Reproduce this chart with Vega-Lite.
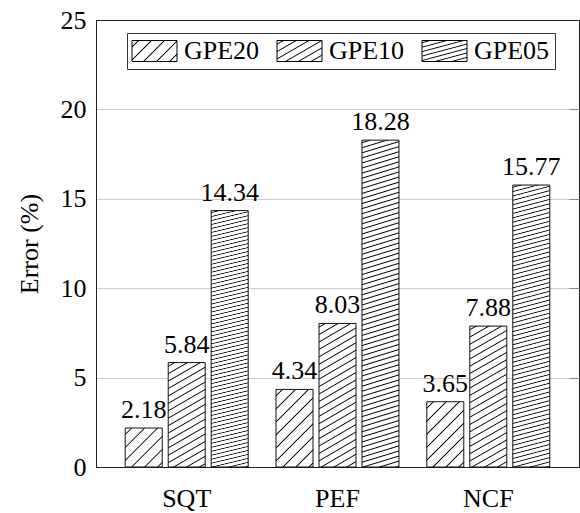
{
  "$schema": "https://vega.github.io/schema/vega-lite/v6.json",
  "width": 483,
  "height": 447,
  "autosize": {"type": "none"},
  "padding": {"left": 96, "top": 20, "right": 1, "bottom": 46},
  "background": "white",
  "config": {"font": "Liberation Serif", "view": {"stroke": "#222", "strokeWidth": 1}},
  "data": {"values": [
    {"cat": "SQT", "series": "GPE20", "value": 2.18},
    {"cat": "SQT", "series": "GPE10", "value": 5.84},
    {"cat": "SQT", "series": "GPE05", "value": 14.34},
    {"cat": "PEF", "series": "GPE20", "value": 4.34},
    {"cat": "PEF", "series": "GPE10", "value": 8.03},
    {"cat": "PEF", "series": "GPE05", "value": 18.28},
    {"cat": "NCF", "series": "GPE20", "value": 3.65},
    {"cat": "NCF", "series": "GPE10", "value": 7.88},
    {"cat": "NCF", "series": "GPE05", "value": 15.77}
  ]},
  "encoding": {
    "x": {
      "field": "cat", "type": "nominal", "sort": ["SQT", "PEF", "NCF"], "title": null,
      "scale": {"paddingInner": 0.1844, "paddingOuter": 0.1937},
      "axis": {"labelAngle": 0, "ticks": false, "tickSize": 0, "labelPadding": 18, "labelFont": "Liberation Serif", "labelFontSize": 26, "labelColor": "#000", "domainColor": "#222", "grid": false}
    },
    "xOffset": {
      "field": "series", "type": "nominal", "sort": ["GPE20", "GPE10", "GPE05"],
      "scale": {"paddingInner": 0.1395, "paddingOuter": 0}
    }
  },
  "layer": [
    {
      "mark": {"type": "bar", "stroke": "#111", "strokeWidth": 1},
      "encoding": {
        "y": {
          "field": "value", "type": "quantitative",
          "scale": {"domain": [0, 25], "nice": false},
          "axis": {
            "title": "Error (%)", "orient": "left", "values": [0, 5, 10, 15, 20, 25],
            "ticks": false, "tickSize": 0, "labelPadding": 10, "labelFont": "Liberation Serif", "labelFontSize": 26, "labelColor": "#000",
            "domainColor": "#222", "grid": true,
            "gridColor": {"condition": {"test": "datum.value === 0 || datum.value === 25", "value": "transparent"}, "value": "#cccccc"},
            "titleFont": "Liberation Serif", "titleFontSize": 26, "titleFontWeight": "normal", "titleColor": "#000",
            "titleX": -54, "titleY": 223.5, "titleAngle": 270, "titleAlign": "center", "titleBaseline": "bottom"
          }
        },
        "fill": {
          "field": "series", "type": "nominal",
          "scale": {
            "domain": ["GPE20", "GPE10", "GPE05"],
            "range": [
              {"expr": "{gradient: 'linear', x1: 0, y1: 0, x2: 1.2044, y2: 0.5621, stops: [{offset: 0.0793, color: '#fff'}, {offset: 0.0986, color: '#000'}, {offset: 0.1179, color: '#fff'}, {offset: 0.2764, color: '#fff'}, {offset: 0.2957, color: '#000'}, {offset: 0.315, color: '#fff'}, {offset: 0.4735, color: '#fff'}, {offset: 0.4928, color: '#000'}, {offset: 0.5121, color: '#fff'}, {offset: 0.6706, color: '#fff'}, {offset: 0.6899, color: '#000'}, {offset: 0.7092, color: '#fff'}, {offset: 0.8677, color: '#fff'}, {offset: 0.887, color: '#000'}, {offset: 0.9063, color: '#fff'}]}"},
              {"expr": "{gradient: 'linear', x1: 0, y1: 0, x2: 1.0938, y2: 0.8841, stops: [{offset: 0.0566, color: '#fff'}, {offset: 0.0787, color: '#000'}, {offset: 0.1008, color: '#fff'}, {offset: 0.2139, color: '#fff'}, {offset: 0.236, color: '#000'}, {offset: 0.2581, color: '#fff'}, {offset: 0.3712, color: '#fff'}, {offset: 0.3933, color: '#000'}, {offset: 0.4154, color: '#fff'}, {offset: 0.5285, color: '#fff'}, {offset: 0.5506, color: '#000'}, {offset: 0.5727, color: '#fff'}, {offset: 0.6858, color: '#fff'}, {offset: 0.7079, color: '#000'}, {offset: 0.73, color: '#fff'}, {offset: 0.8431, color: '#fff'}, {offset: 0.8652, color: '#000'}, {offset: 0.8873, color: '#fff'}]}"},
              {"expr": "{gradient: 'linear', x1: 0, y1: 0, x2: 0.6798, y2: 1.1839, stops: [{offset: 0.0391, color: '#fff'}, {offset: 0.0673, color: '#000'}, {offset: 0.0955, color: '#fff'}, {offset: 0.1738, color: '#fff'}, {offset: 0.202, color: '#000'}, {offset: 0.2302, color: '#fff'}, {offset: 0.3084, color: '#fff'}, {offset: 0.3366, color: '#000'}, {offset: 0.3648, color: '#fff'}, {offset: 0.4431, color: '#fff'}, {offset: 0.4713, color: '#000'}, {offset: 0.4995, color: '#fff'}, {offset: 0.5778, color: '#fff'}, {offset: 0.606, color: '#000'}, {offset: 0.6342, color: '#fff'}, {offset: 0.7124, color: '#fff'}, {offset: 0.7406, color: '#000'}, {offset: 0.7688, color: '#fff'}, {offset: 0.8471, color: '#fff'}, {offset: 0.8753, color: '#000'}, {offset: 0.9035, color: '#fff'}]}"}
            ]
          },
          "legend": {
            "orient": "none", "legendX": 31, "legendY": 13, "direction": "horizontal", "title": null,
            "symbolType": "M-2,-0.9333H2V0.9333H-2Z", "symbolSize": 506.25, "symbolOffset": 9.5,
            "symbolStrokeColor": "#000", "symbolStrokeWidth": 1, "symbolOpacity": 1,
            "labelFont": "Liberation Serif", "labelFontSize": 26, "labelColor": "#000", "labelOffset": 16.5, "columnPadding": 15,
            "padding": 5, "strokeColor": "#333", "fillColor": "#fff"
          },
          "condition": [
            {"test": "datum.series === 'GPE05'", "value": {"gradient": "linear", "x1": 0, "y1": 0, "x2": 0.0357, "y2": 1.0333, "stops": [
              {"offset": 0.0045, "color": "#fff"}, {"offset": 0.0075, "color": "#000"}, {"offset": 0.0105, "color": "#fff"},
              {"offset": 0.0195, "color": "#fff"}, {"offset": 0.0225, "color": "#000"}, {"offset": 0.0255, "color": "#fff"},
              {"offset": 0.0345, "color": "#fff"}, {"offset": 0.0375, "color": "#000"}, {"offset": 0.0405, "color": "#fff"},
              {"offset": 0.0495, "color": "#fff"}, {"offset": 0.0525, "color": "#000"}, {"offset": 0.0555, "color": "#fff"},
              {"offset": 0.0645, "color": "#fff"}, {"offset": 0.0675, "color": "#000"}, {"offset": 0.0705, "color": "#fff"},
              {"offset": 0.0795, "color": "#fff"}, {"offset": 0.0825, "color": "#000"}, {"offset": 0.0855, "color": "#fff"},
              {"offset": 0.0945, "color": "#fff"}, {"offset": 0.0975, "color": "#000"}, {"offset": 0.1005, "color": "#fff"},
              {"offset": 0.1095, "color": "#fff"}, {"offset": 0.1125, "color": "#000"}, {"offset": 0.1155, "color": "#fff"},
              {"offset": 0.1245, "color": "#fff"}, {"offset": 0.1275, "color": "#000"}, {"offset": 0.1305, "color": "#fff"},
              {"offset": 0.1395, "color": "#fff"}, {"offset": 0.1425, "color": "#000"}, {"offset": 0.1455, "color": "#fff"},
              {"offset": 0.1545, "color": "#fff"}, {"offset": 0.1575, "color": "#000"}, {"offset": 0.1605, "color": "#fff"},
              {"offset": 0.1695, "color": "#fff"}, {"offset": 0.1725, "color": "#000"}, {"offset": 0.1755, "color": "#fff"},
              {"offset": 0.1845, "color": "#fff"}, {"offset": 0.1875, "color": "#000"}, {"offset": 0.1905, "color": "#fff"},
              {"offset": 0.1995, "color": "#fff"}, {"offset": 0.2025, "color": "#000"}, {"offset": 0.2055, "color": "#fff"},
              {"offset": 0.2145, "color": "#fff"}, {"offset": 0.2175, "color": "#000"}, {"offset": 0.2205, "color": "#fff"},
              {"offset": 0.2295, "color": "#fff"}, {"offset": 0.2325, "color": "#000"}, {"offset": 0.2355, "color": "#fff"},
              {"offset": 0.2445, "color": "#fff"}, {"offset": 0.2475, "color": "#000"}, {"offset": 0.2505, "color": "#fff"},
              {"offset": 0.2595, "color": "#fff"}, {"offset": 0.2625, "color": "#000"}, {"offset": 0.2655, "color": "#fff"},
              {"offset": 0.2745, "color": "#fff"}, {"offset": 0.2775, "color": "#000"}, {"offset": 0.2805, "color": "#fff"},
              {"offset": 0.2895, "color": "#fff"}, {"offset": 0.2925, "color": "#000"}, {"offset": 0.2955, "color": "#fff"},
              {"offset": 0.3045, "color": "#fff"}, {"offset": 0.3075, "color": "#000"}, {"offset": 0.3105, "color": "#fff"},
              {"offset": 0.3195, "color": "#fff"}, {"offset": 0.3225, "color": "#000"}, {"offset": 0.3255, "color": "#fff"},
              {"offset": 0.3345, "color": "#fff"}, {"offset": 0.3375, "color": "#000"}, {"offset": 0.3405, "color": "#fff"},
              {"offset": 0.3495, "color": "#fff"}, {"offset": 0.3525, "color": "#000"}, {"offset": 0.3555, "color": "#fff"},
              {"offset": 0.3645, "color": "#fff"}, {"offset": 0.3675, "color": "#000"}, {"offset": 0.3705, "color": "#fff"},
              {"offset": 0.3795, "color": "#fff"}, {"offset": 0.3825, "color": "#000"}, {"offset": 0.3855, "color": "#fff"},
              {"offset": 0.3945, "color": "#fff"}, {"offset": 0.3975, "color": "#000"}, {"offset": 0.4005, "color": "#fff"},
              {"offset": 0.4095, "color": "#fff"}, {"offset": 0.4125, "color": "#000"}, {"offset": 0.4155, "color": "#fff"},
              {"offset": 0.4245, "color": "#fff"}, {"offset": 0.4275, "color": "#000"}, {"offset": 0.4305, "color": "#fff"},
              {"offset": 0.4395, "color": "#fff"}, {"offset": 0.4425, "color": "#000"}, {"offset": 0.4455, "color": "#fff"},
              {"offset": 0.4545, "color": "#fff"}, {"offset": 0.4575, "color": "#000"}, {"offset": 0.4605, "color": "#fff"},
              {"offset": 0.4695, "color": "#fff"}, {"offset": 0.4725, "color": "#000"}, {"offset": 0.4755, "color": "#fff"},
              {"offset": 0.4845, "color": "#fff"}, {"offset": 0.4875, "color": "#000"}, {"offset": 0.4905, "color": "#fff"},
              {"offset": 0.4995, "color": "#fff"}, {"offset": 0.5025, "color": "#000"}, {"offset": 0.5055, "color": "#fff"},
              {"offset": 0.5145, "color": "#fff"}, {"offset": 0.5175, "color": "#000"}, {"offset": 0.5205, "color": "#fff"},
              {"offset": 0.5295, "color": "#fff"}, {"offset": 0.5325, "color": "#000"}, {"offset": 0.5355, "color": "#fff"},
              {"offset": 0.5445, "color": "#fff"}, {"offset": 0.5475, "color": "#000"}, {"offset": 0.5505, "color": "#fff"},
              {"offset": 0.5595, "color": "#fff"}, {"offset": 0.5625, "color": "#000"}, {"offset": 0.5655, "color": "#fff"},
              {"offset": 0.5745, "color": "#fff"}, {"offset": 0.5775, "color": "#000"}, {"offset": 0.5805, "color": "#fff"},
              {"offset": 0.5895, "color": "#fff"}, {"offset": 0.5925, "color": "#000"}, {"offset": 0.5955, "color": "#fff"},
              {"offset": 0.6045, "color": "#fff"}, {"offset": 0.6075, "color": "#000"}, {"offset": 0.6105, "color": "#fff"},
              {"offset": 0.6195, "color": "#fff"}, {"offset": 0.6225, "color": "#000"}, {"offset": 0.6255, "color": "#fff"},
              {"offset": 0.6345, "color": "#fff"}, {"offset": 0.6375, "color": "#000"}, {"offset": 0.6405, "color": "#fff"},
              {"offset": 0.6495, "color": "#fff"}, {"offset": 0.6525, "color": "#000"}, {"offset": 0.6555, "color": "#fff"},
              {"offset": 0.6645, "color": "#fff"}, {"offset": 0.6675, "color": "#000"}, {"offset": 0.6705, "color": "#fff"},
              {"offset": 0.6795, "color": "#fff"}, {"offset": 0.6825, "color": "#000"}, {"offset": 0.6855, "color": "#fff"},
              {"offset": 0.6945, "color": "#fff"}, {"offset": 0.6975, "color": "#000"}, {"offset": 0.7005, "color": "#fff"},
              {"offset": 0.7095, "color": "#fff"}, {"offset": 0.7125, "color": "#000"}, {"offset": 0.7155, "color": "#fff"},
              {"offset": 0.7245, "color": "#fff"}, {"offset": 0.7275, "color": "#000"}, {"offset": 0.7305, "color": "#fff"},
              {"offset": 0.7395, "color": "#fff"}, {"offset": 0.7425, "color": "#000"}, {"offset": 0.7455, "color": "#fff"},
              {"offset": 0.7545, "color": "#fff"}, {"offset": 0.7575, "color": "#000"}, {"offset": 0.7605, "color": "#fff"},
              {"offset": 0.7695, "color": "#fff"}, {"offset": 0.7725, "color": "#000"}, {"offset": 0.7755, "color": "#fff"},
              {"offset": 0.7845, "color": "#fff"}, {"offset": 0.7875, "color": "#000"}, {"offset": 0.7905, "color": "#fff"},
              {"offset": 0.7995, "color": "#fff"}, {"offset": 0.8025, "color": "#000"}, {"offset": 0.8055, "color": "#fff"},
              {"offset": 0.8145, "color": "#fff"}, {"offset": 0.8175, "color": "#000"}, {"offset": 0.8205, "color": "#fff"},
              {"offset": 0.8295, "color": "#fff"}, {"offset": 0.8325, "color": "#000"}, {"offset": 0.8355, "color": "#fff"},
              {"offset": 0.8445, "color": "#fff"}, {"offset": 0.8475, "color": "#000"}, {"offset": 0.8505, "color": "#fff"},
              {"offset": 0.8595, "color": "#fff"}, {"offset": 0.8625, "color": "#000"}, {"offset": 0.8655, "color": "#fff"},
              {"offset": 0.8745, "color": "#fff"}, {"offset": 0.8775, "color": "#000"}, {"offset": 0.8805, "color": "#fff"},
              {"offset": 0.8895, "color": "#fff"}, {"offset": 0.8925, "color": "#000"}, {"offset": 0.8955, "color": "#fff"},
              {"offset": 0.9045, "color": "#fff"}, {"offset": 0.9075, "color": "#000"}, {"offset": 0.9105, "color": "#fff"},
              {"offset": 0.9195, "color": "#fff"}, {"offset": 0.9225, "color": "#000"}, {"offset": 0.9255, "color": "#fff"},
              {"offset": 0.9345, "color": "#fff"}, {"offset": 0.9375, "color": "#000"}, {"offset": 0.9405, "color": "#fff"},
              {"offset": 0.9495, "color": "#fff"}, {"offset": 0.9525, "color": "#000"}, {"offset": 0.9555, "color": "#fff"},
              {"offset": 0.9645, "color": "#fff"}, {"offset": 0.9675, "color": "#000"}, {"offset": 0.9705, "color": "#fff"},
              {"offset": 0.9795, "color": "#fff"}, {"offset": 0.9825, "color": "#000"}, {"offset": 0.9855, "color": "#fff"},
              {"offset": 0.9945, "color": "#fff"}, {"offset": 0.9975, "color": "#000"}, {"offset": 1, "color": "#fff"}
            ]}},
            {"test": "datum.series === 'GPE10' && datum.cat === 'SQT'", "value": {"gradient": "linear", "x1": 0, "y1": 0, "x2": 0.2365, "y2": 1.1562, "stops": [
              {"offset": 0.0212, "color": "#fff"}, {"offset": 0.0295, "color": "#000"}, {"offset": 0.0378, "color": "#fff"},
              {"offset": 0.0802, "color": "#fff"}, {"offset": 0.0885, "color": "#000"}, {"offset": 0.0968, "color": "#fff"},
              {"offset": 0.1392, "color": "#fff"}, {"offset": 0.1475, "color": "#000"}, {"offset": 0.1558, "color": "#fff"},
              {"offset": 0.1982, "color": "#fff"}, {"offset": 0.2065, "color": "#000"}, {"offset": 0.2148, "color": "#fff"},
              {"offset": 0.2572, "color": "#fff"}, {"offset": 0.2655, "color": "#000"}, {"offset": 0.2738, "color": "#fff"},
              {"offset": 0.3162, "color": "#fff"}, {"offset": 0.3245, "color": "#000"}, {"offset": 0.3328, "color": "#fff"},
              {"offset": 0.3752, "color": "#fff"}, {"offset": 0.3835, "color": "#000"}, {"offset": 0.3918, "color": "#fff"},
              {"offset": 0.4342, "color": "#fff"}, {"offset": 0.4425, "color": "#000"}, {"offset": 0.4508, "color": "#fff"},
              {"offset": 0.4932, "color": "#fff"}, {"offset": 0.5015, "color": "#000"}, {"offset": 0.5098, "color": "#fff"},
              {"offset": 0.5522, "color": "#fff"}, {"offset": 0.5605, "color": "#000"}, {"offset": 0.5688, "color": "#fff"},
              {"offset": 0.6112, "color": "#fff"}, {"offset": 0.6195, "color": "#000"}, {"offset": 0.6278, "color": "#fff"},
              {"offset": 0.6702, "color": "#fff"}, {"offset": 0.6785, "color": "#000"}, {"offset": 0.6868, "color": "#fff"},
              {"offset": 0.7292, "color": "#fff"}, {"offset": 0.7375, "color": "#000"}, {"offset": 0.7458, "color": "#fff"},
              {"offset": 0.7882, "color": "#fff"}, {"offset": 0.7965, "color": "#000"}, {"offset": 0.8048, "color": "#fff"},
              {"offset": 0.8472, "color": "#fff"}, {"offset": 0.8555, "color": "#000"}, {"offset": 0.8638, "color": "#fff"},
              {"offset": 0.9062, "color": "#fff"}, {"offset": 0.9145, "color": "#000"}, {"offset": 0.9228, "color": "#fff"},
              {"offset": 0.9652, "color": "#fff"}, {"offset": 0.9735, "color": "#000"}, {"offset": 0.9818, "color": "#fff"}
            ]}},
            {"test": "datum.series === 'GPE10'", "value": {"gradient": "linear", "x1": 0, "y1": 0, "x2": 0.169, "y2": 1.1248, "stops": [
              {"offset": 0.0161, "color": "#fff"}, {"offset": 0.0225, "color": "#000"}, {"offset": 0.0289, "color": "#fff"},
              {"offset": 0.0611, "color": "#fff"}, {"offset": 0.0675, "color": "#000"}, {"offset": 0.0739, "color": "#fff"},
              {"offset": 0.1061, "color": "#fff"}, {"offset": 0.1125, "color": "#000"}, {"offset": 0.1189, "color": "#fff"},
              {"offset": 0.1511, "color": "#fff"}, {"offset": 0.1575, "color": "#000"}, {"offset": 0.1639, "color": "#fff"},
              {"offset": 0.1961, "color": "#fff"}, {"offset": 0.2025, "color": "#000"}, {"offset": 0.2089, "color": "#fff"},
              {"offset": 0.2411, "color": "#fff"}, {"offset": 0.2475, "color": "#000"}, {"offset": 0.2539, "color": "#fff"},
              {"offset": 0.2861, "color": "#fff"}, {"offset": 0.2925, "color": "#000"}, {"offset": 0.2989, "color": "#fff"},
              {"offset": 0.3311, "color": "#fff"}, {"offset": 0.3375, "color": "#000"}, {"offset": 0.3439, "color": "#fff"},
              {"offset": 0.3761, "color": "#fff"}, {"offset": 0.3825, "color": "#000"}, {"offset": 0.3889, "color": "#fff"},
              {"offset": 0.4211, "color": "#fff"}, {"offset": 0.4275, "color": "#000"}, {"offset": 0.4339, "color": "#fff"},
              {"offset": 0.4661, "color": "#fff"}, {"offset": 0.4725, "color": "#000"}, {"offset": 0.4789, "color": "#fff"},
              {"offset": 0.5111, "color": "#fff"}, {"offset": 0.5175, "color": "#000"}, {"offset": 0.5239, "color": "#fff"},
              {"offset": 0.5561, "color": "#fff"}, {"offset": 0.5625, "color": "#000"}, {"offset": 0.5689, "color": "#fff"},
              {"offset": 0.6011, "color": "#fff"}, {"offset": 0.6075, "color": "#000"}, {"offset": 0.6139, "color": "#fff"},
              {"offset": 0.6461, "color": "#fff"}, {"offset": 0.6525, "color": "#000"}, {"offset": 0.6589, "color": "#fff"},
              {"offset": 0.6911, "color": "#fff"}, {"offset": 0.6975, "color": "#000"}, {"offset": 0.7039, "color": "#fff"},
              {"offset": 0.7361, "color": "#fff"}, {"offset": 0.7425, "color": "#000"}, {"offset": 0.7489, "color": "#fff"},
              {"offset": 0.7811, "color": "#fff"}, {"offset": 0.7875, "color": "#000"}, {"offset": 0.7939, "color": "#fff"},
              {"offset": 0.8261, "color": "#fff"}, {"offset": 0.8325, "color": "#000"}, {"offset": 0.8389, "color": "#fff"},
              {"offset": 0.8711, "color": "#fff"}, {"offset": 0.8775, "color": "#000"}, {"offset": 0.8839, "color": "#fff"},
              {"offset": 0.9161, "color": "#fff"}, {"offset": 0.9225, "color": "#000"}, {"offset": 0.9289, "color": "#fff"},
              {"offset": 0.9611, "color": "#fff"}, {"offset": 0.9675, "color": "#000"}, {"offset": 0.9739, "color": "#fff"}
            ]}},
            {"test": "datum.series === 'GPE20' && datum.cat === 'SQT'", "value": {"gradient": "linear", "x1": 0, "y1": 0, "x2": 0.9733, "y2": 1.0254, "stops": [
              {"offset": 0.0687, "color": "#fff"}, {"offset": 0.0855, "color": "#000"}, {"offset": 0.1023, "color": "#fff"},
              {"offset": 0.2397, "color": "#fff"}, {"offset": 0.2565, "color": "#000"}, {"offset": 0.2733, "color": "#fff"},
              {"offset": 0.4107, "color": "#fff"}, {"offset": 0.4275, "color": "#000"}, {"offset": 0.4443, "color": "#fff"},
              {"offset": 0.5817, "color": "#fff"}, {"offset": 0.5985, "color": "#000"}, {"offset": 0.6153, "color": "#fff"},
              {"offset": 0.7527, "color": "#fff"}, {"offset": 0.7695, "color": "#000"}, {"offset": 0.7863, "color": "#fff"},
              {"offset": 0.9237, "color": "#fff"}, {"offset": 0.9405, "color": "#000"}, {"offset": 0.9573, "color": "#fff"}
            ]}},
            {"test": "datum.series === 'GPE20' && datum.cat === 'PEF'", "value": {"gradient": "linear", "x1": 0, "y1": 0, "x2": 0.5737, "y2": 1.2033, "stops": [
              {"offset": 0.0457, "color": "#fff"}, {"offset": 0.0568, "color": "#000"}, {"offset": 0.0679, "color": "#fff"},
              {"offset": 0.1592, "color": "#fff"}, {"offset": 0.1703, "color": "#000"}, {"offset": 0.1814, "color": "#fff"},
              {"offset": 0.2727, "color": "#fff"}, {"offset": 0.2838, "color": "#000"}, {"offset": 0.2949, "color": "#fff"},
              {"offset": 0.3862, "color": "#fff"}, {"offset": 0.3973, "color": "#000"}, {"offset": 0.4084, "color": "#fff"},
              {"offset": 0.4997, "color": "#fff"}, {"offset": 0.5108, "color": "#000"}, {"offset": 0.5219, "color": "#fff"},
              {"offset": 0.6132, "color": "#fff"}, {"offset": 0.6243, "color": "#000"}, {"offset": 0.6354, "color": "#fff"},
              {"offset": 0.7267, "color": "#fff"}, {"offset": 0.7378, "color": "#000"}, {"offset": 0.7489, "color": "#fff"},
              {"offset": 0.8402, "color": "#fff"}, {"offset": 0.8513, "color": "#000"}, {"offset": 0.8624, "color": "#fff"},
              {"offset": 0.9537, "color": "#fff"}, {"offset": 0.9648, "color": "#000"}, {"offset": 0.9759, "color": "#fff"}
            ]}},
            {"test": "datum.series === 'GPE20'", "value": {"gradient": "linear", "x1": 0, "y1": 0, "x2": 0.6723, "y2": 1.1858, "stops": [
              {"offset": 0.0511, "color": "#fff"}, {"offset": 0.0635, "color": "#000"}, {"offset": 0.0759, "color": "#fff"},
              {"offset": 0.1781, "color": "#fff"}, {"offset": 0.1905, "color": "#000"}, {"offset": 0.2029, "color": "#fff"},
              {"offset": 0.3051, "color": "#fff"}, {"offset": 0.3175, "color": "#000"}, {"offset": 0.3299, "color": "#fff"},
              {"offset": 0.4321, "color": "#fff"}, {"offset": 0.4445, "color": "#000"}, {"offset": 0.4569, "color": "#fff"},
              {"offset": 0.5591, "color": "#fff"}, {"offset": 0.5715, "color": "#000"}, {"offset": 0.5839, "color": "#fff"},
              {"offset": 0.6861, "color": "#fff"}, {"offset": 0.6985, "color": "#000"}, {"offset": 0.7109, "color": "#fff"},
              {"offset": 0.8131, "color": "#fff"}, {"offset": 0.8255, "color": "#000"}, {"offset": 0.8379, "color": "#fff"},
              {"offset": 0.9401, "color": "#fff"}, {"offset": 0.9525, "color": "#000"}, {"offset": 0.9649, "color": "#fff"}
            ]}}
          ]
        }
      }
    },
    {
      "mark": {"type": "text", "dy": -10, "baseline": "alphabetic", "font": "Liberation Serif", "fontSize": 26, "color": "#000"},
      "encoding": {
        "y": {
          "field": "value", "type": "quantitative",
          "scale": {"domain": [0, 25], "nice": false},
          "axis": {"orient": "right", "title": null, "labels": false, "domain": false, "grid": false,
                   "ticks": true, "tickSize": -10, "tickColor": "#8a8a8a", "tickWidth": 1, "values": [5, 10, 15, 20]}
        },
        "text": {"field": "value", "type": "quantitative", "format": ".2f"}
      }
    }
  ],
  "resolve": {"axis": {"y": "independent"}}
}
